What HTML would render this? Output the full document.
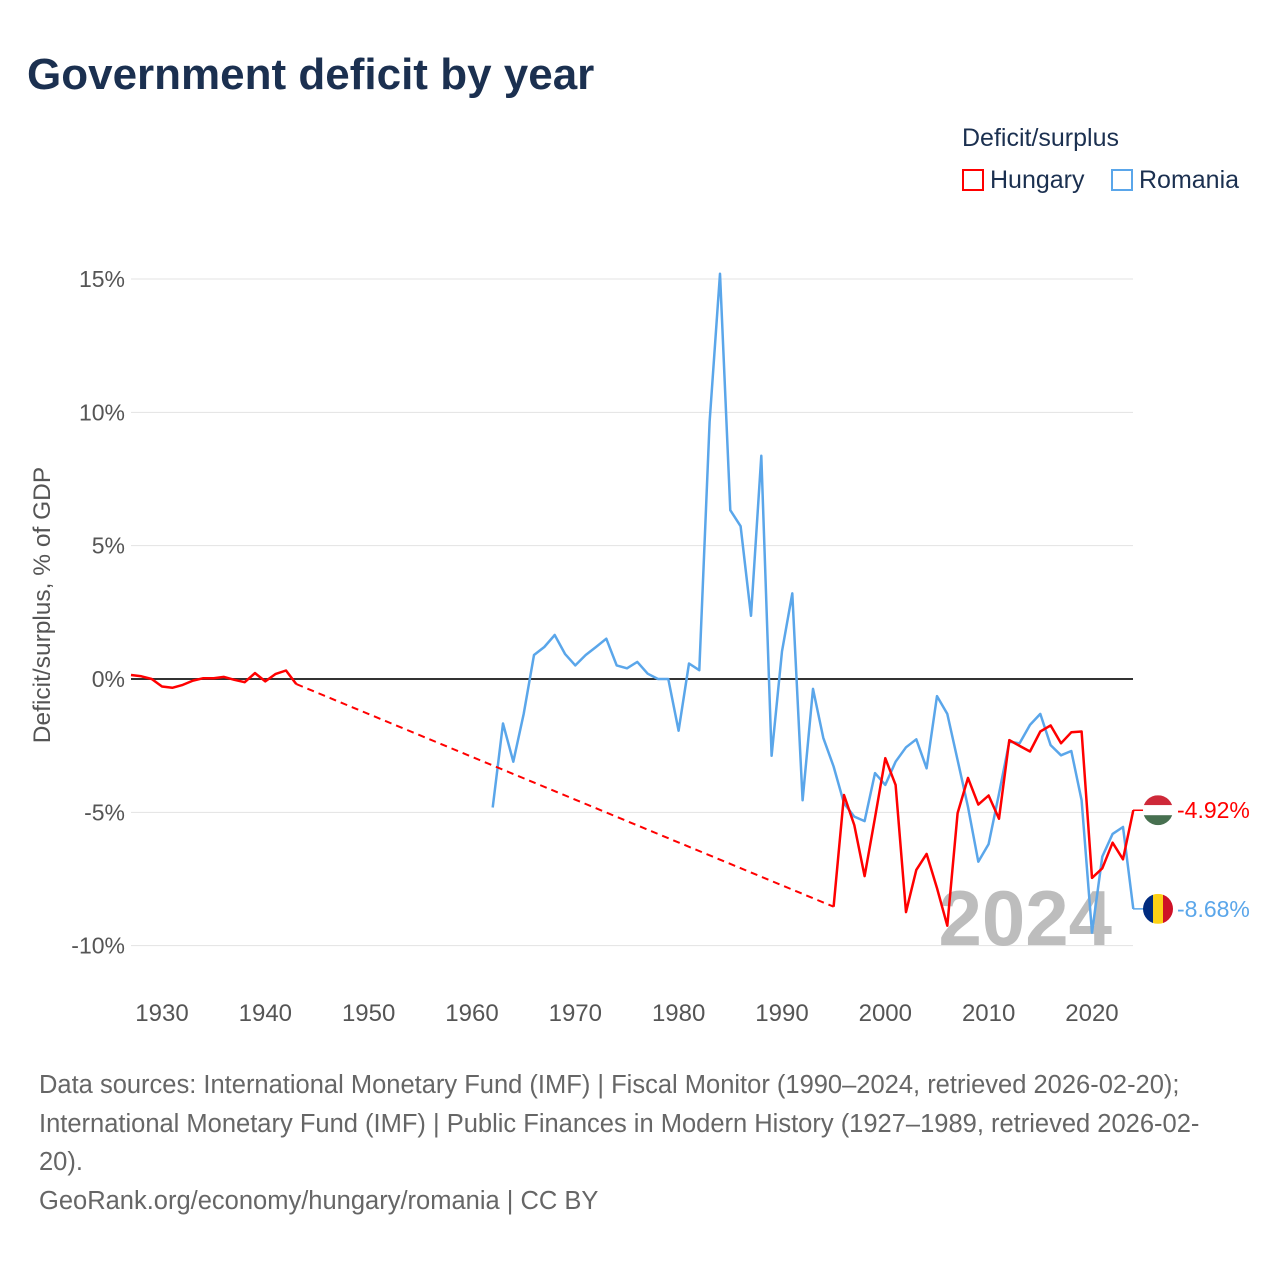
<!DOCTYPE html>
<html><head><meta charset="utf-8"><style>
body{margin:0;background:#fff;font-family:"Liberation Sans",sans-serif;}
#wrap{position:relative;width:1280px;height:1280px;overflow:hidden;}
</style></head><body>
<div id="wrap">
<div style="position:absolute;left:27px;top:50px;font-size:44px;font-weight:bold;color:#1b3050;">Government deficit by year</div>
<div style="position:absolute;left:962px;top:124px;font-size:25px;color:#1b3050;">Deficit/surplus</div>
<div style="position:absolute;left:962px;top:166px;font-size:25px;color:#1b3050;"><span style="display:inline-block;width:22px;height:22px;border:2px solid #f00;box-sizing:border-box;vertical-align:-3px;margin-right:6px;"></span>Hungary</div>
<div style="position:absolute;left:1111px;top:166px;font-size:25px;color:#1b3050;"><span style="display:inline-block;width:22px;height:22px;border:2px solid #5aa6ea;box-sizing:border-box;vertical-align:-3px;margin-right:6px;"></span>Romania</div>
<svg id="chart" width="1280" height="1280" style="position:absolute;left:0;top:0;"></svg>
<div style="position:absolute;left:39px;top:1066px;width:1240px;white-space:nowrap;font-size:25.5px;line-height:38.7px;color:#666;">Data sources: International Monetary Fund (IMF) | Fiscal Monitor (1990–2024, retrieved 2026-02-20);<br>International Monetary Fund (IMF) | Public Finances in Modern History (1927–1989, retrieved 2026-02-<br>20).<br>GeoRank.org/economy/hungary/romania | CC BY</div>
</div>
<script>
const yTicks=[15,10,5,0,-5,-10];
const xTicks=[1930,1940,1950,1960,1970,1980,1990,2000,2010,2020];
const huYears=[1927,1928,1929,1930,1931,1932,1933,1934,1935,1936,1937,1938,1939,1940,1941,1942,1943,1995,1996,1997,1998,1999,2000,2001,2002,2003,2004,2005,2006,2007,2008,2009,2010,2011,2012,2013,2014,2015,2016,2017,2018,2019,2020,2021,2022,2023,2024];
const huValues=[0.15,0.1,0,-0.28,-0.33,-0.22,-0.06,0.03,0.03,0.08,-0.03,-0.12,0.22,-0.09,0.19,0.32,-0.19,-8.54,-4.35,-5.48,-7.39,-5.2,-2.97,-3.97,-8.74,-7.16,-6.56,-7.84,-9.25,-5.03,-3.71,-4.71,-4.37,-5.24,-2.29,-2.51,-2.72,-1.97,-1.74,-2.41,-2.0,-1.97,-7.46,-7.1,-6.14,-6.76,-4.92];
const roYears=[1962,1963,1964,1965,1966,1967,1968,1969,1970,1971,1972,1973,1974,1975,1976,1977,1978,1979,1980,1981,1982,1983,1984,1985,1986,1987,1988,1989,1990,1991,1992,1993,1994,1995,1996,1997,1998,1999,2000,2001,2002,2003,2004,2005,2006,2007,2008,2009,2010,2011,2012,2013,2014,2015,2016,2017,2018,2019,2020,2021,2022,2023,2024];
const roValues=[-4.82,-1.67,-3.1,-1.31,0.9,1.2,1.65,0.94,0.51,0.9,1.2,1.51,0.51,0.4,0.64,0.2,0,0,-1.94,0.58,0.33,9.64,15.2,6.33,5.73,2.37,8.37,-2.88,1.04,3.21,-4.55,-0.37,-2.21,-3.28,-4.66,-5.16,-5.33,-3.53,-3.97,-3.1,-2.56,-2.26,-3.35,-0.64,-1.31,-3.04,-4.8,-6.85,-6.19,-4.3,-2.35,-2.41,-1.72,-1.31,-2.48,-2.86,-2.7,-4.55,-9.51,-6.66,-5.81,-5.55,-8.62];
const huLabel="-4.92%";
const roLabel="-8.68%";

const NS="http://www.w3.org/2000/svg";
const svg=document.getElementById('chart');
const X=yr=>162+(yr-1930)*10.333;
const Y=v=>679-v*26.667;
const L=131,R=1133;
function mk(tag,attrs,parent){const e=document.createElementNS(NS,tag);for(const k in attrs)e.setAttribute(k,attrs[k]);(parent||svg).appendChild(e);return e;}

yTicks.forEach(t=>{
  const ln=mk('line',{x1:L,x2:R,y1:Y(t),y2:Y(t),stroke:t===0?'#333':'#e3e3e3','stroke-width':t===0?2:1});
  
  
  const tx=mk('text',{x:125,y:Y(t)+8,'text-anchor':'end','font-size':23,fill:'#555','font-family':'Liberation Sans, sans-serif'});
  tx.textContent=t+'%';
  
  
});
xTicks.forEach(t=>{
  const tx=mk('text',{x:X(t),y:1021,'text-anchor':'middle','font-size':24,fill:'#555','font-family':'Liberation Sans, sans-serif'});
  tx.textContent=t;
  
  
});
const yt=mk('text',{transform:'translate(50,605) rotate(-90)','text-anchor':'middle','font-size':24.5,fill:'#555','font-family':'Liberation Sans, sans-serif'});
yt.textContent='Deficit/surplus, % of GDP';



const yr=mk('text',{x:1112,y:945,'text-anchor':'end','font-size':78,'font-weight':'bold',fill:'#bdbdbd','font-family':'Liberation Sans, sans-serif'});
yr.textContent='2024';



function drawSeries(years,vals,color,name){
  let segs=[],cur=[];
  for(let i=0;i<years.length;i++){
    if(i>0&&years[i]-years[i-1]>1){
      segs.push(cur);
      const d=mk('line',{x1:X(years[i-1]),y1:Y(vals[i-1]),x2:X(years[i]),y2:Y(vals[i]),stroke:color,'stroke-width':2,'stroke-dasharray':'7,5'});
      
      
      cur=[];
    }
    cur.push(X(years[i]).toFixed(1)+','+Y(vals[i]).toFixed(1));
  }
  segs.push(cur);
  segs.forEach(s=>{
    const p=mk('polyline',{points:s.join(' '),fill:'none',stroke:color,'stroke-width':2.5,'stroke-linejoin':'round'});
    
    
  });
}
drawSeries(roYears,roValues,'#5aa6ea','romania');
drawSeries(huYears,huValues,'#ff0000','hungary');

function endMarker(vals,label,color,name,flag){
  const v=vals[vals.length-1];
  const cy=Y(v), cx=1158;
  const ln=mk('line',{x1:R,x2:cx,y1:cy,y2:cy,stroke:color,'stroke-width':1.5});
  
  
  const g=mk('g',{});
  
  
  const cp=mk('clipPath',{id:'cp'+name},g);
  mk('circle',{cx:cx,cy:cy,r:15},cp);
  const r=15;
  if(flag==='hu'){
    ['#ce2939','#ffffff','#477050'].forEach((c,i)=>mk('rect',{x:cx-r,y:cy-r+i*10,width:30,height:10,fill:c,'clip-path':'url(#cp'+name+')'},g));
  }else{
    ['#002b7f','#fcd116','#ce1126'].forEach((c,i)=>mk('rect',{x:cx-r+i*10,y:cy-r,width:10,height:30,fill:c,'clip-path':'url(#cp'+name+')'},g));
  }
  const t=mk('text',{x:1177,y:cy+8,'font-size':23,fill:color,'font-family':'Liberation Sans, sans-serif'});
  t.textContent=label;
  
  
}
endMarker(huValues,huLabel,'#ff0000','hungary','hu');
endMarker(roValues,roLabel,'#5aa6ea','romania','ro');
</script>
</body></html>
